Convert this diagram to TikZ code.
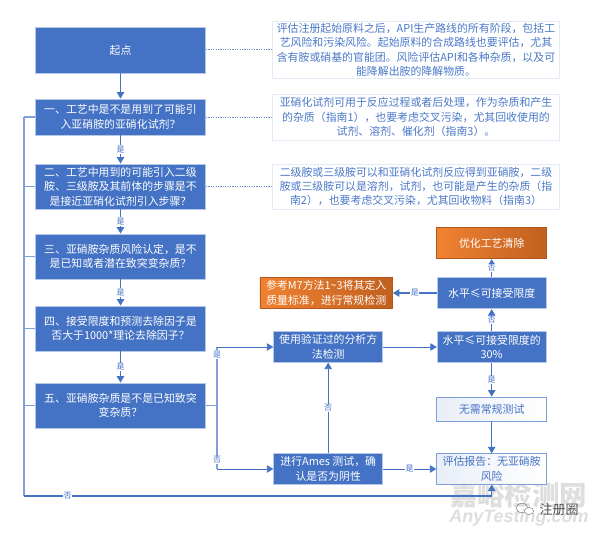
\documentclass[tikz,border=0pt]{standalone}
\usepackage{fontspec}
\setmainfont{Noto Sans CJK SC}
\newfontfamily\latinwm{Liberation Sans}
\usetikzlibrary{arrows.meta}
\definecolor{mainblue}{HTML}{4472C4}
\definecolor{paleblue}{HTML}{B4C7E7}
\definecolor{midblue}{HTML}{7F9FDA}
\definecolor{noteline}{HTML}{E4E9F6}
\definecolor{notetext}{HTML}{4A78C8}
\definecolor{orangeL}{HTML}{F08232}
\definecolor{orangeR}{HTML}{C0601F}
\definecolor{orangeB}{HTML}{B5561B}
\definecolor{wmgrey}{HTML}{DEDEDE}
\tikzset{
  x=1pt,y=-1pt,
  flowbox/.style={draw=paleblue,fill=mainblue,text=white,line width=0.8pt,inner sep=0pt,align=center,font=\fontsize{10.9}{14.6}\selectfont},
  notebox/.style={draw=noteline,fill=white,text=notetext,line width=0.8pt,inner sep=0pt,align=center,font=\fontsize{10.9}{14.4}\selectfont},
  orangebox/.style={draw=orangeB,left color=orangeL,right color=orangeR,text=white,line width=0.8pt,inner sep=0pt,align=center,font=\fontsize{10.9}{14.6}\selectfont},
  palebox/.style={draw=midblue,left color=mainblue!12,right color=white,text=mainblue,line width=0.8pt,inner sep=0pt,align=center,font=\fontsize{10.9}{14.6}\selectfont},
  conn/.style={draw=mainblue,line width=0.9pt},
  busline/.style={draw=midblue,line width=1.2pt},
  dotline/.style={draw=mainblue!80,line width=1pt,dash pattern=on 1.2pt off 1.2pt},
  arrowed/.style={-{Triangle[length=6.5pt,width=7.5pt]}},
  lab/.style={fill=white,text=mainblue,inner sep=0.6pt,font=\fontsize{8}{9}\selectfont},
}
\begin{document}
\begin{tikzpicture}
\useasboundingbox (0,0) rectangle (600,535);
% left column
\node[flowbox,minimum width=170pt,minimum height=46pt] (start) at (120.5,50) {起点};
\node[flowbox,minimum width=170pt,minimum height=36pt] (q1) at (120.5,117) {一、工艺中是不是用到了可能引\\入亚硝胺的亚硝化试剂？};
\node[flowbox,minimum width=170pt,minimum height=45pt] (q2) at (120.5,186.5) {二、工艺中用到的可能引入二级\\胺、三级胺及其前体的步骤是不\\是接近亚硝化试剂引入步骤？};
\node[flowbox,minimum width=170pt,minimum height=45pt] (q3) at (120.5,256.5) {三、亚硝胺杂质风险认定，是不\\是已知或者潜在致突变杂质？};
\node[flowbox,minimum width=170pt,minimum height=45pt] (q4) at (120.5,328.5) {四、接受限度和预测去除因子是\\否大于1000*理论去除因子？};
\node[flowbox,minimum width=170pt,minimum height=45pt] (q5) at (120.5,405.5) {五、亚硝胺杂质是不是已知致突\\变杂质？};
% notes
\node[notebox,minimum width=287pt,minimum height=57pt] (n0) at (416,50) {评估注册起始原料之后，API生产路线的所有阶段，包括工\\艺风险和污染风险。起始原料的合成路线也要评估，尤其\\含有胺或硝基的官能团。风险评估API和各种杂质，以及可\\能降解出胺的降解物质。};
\node[notebox,minimum width=287pt,minimum height=46pt] (n1) at (416,117) {亚硝化试剂可用于反应过程或者后处理，作为杂质和产生\\的杂质（指南1），也要考虑交叉污染，尤其回收使用的\\试剂、溶剂、催化剂（指南3）。};
\node[notebox,minimum width=287pt,minimum height=45pt] (n2) at (416,186.5) {二级胺或三级胺可以和亚硝化试剂反应得到亚硝胺，二级\\胺或三级胺可以是溶剂，试剂，也可能是产生的杂质（指\\南2），也要考虑交叉污染，尤其回收物料（指南3）};
% right part
\node[orangebox,minimum width=110pt,minimum height=31.5pt] (opt) at (491.7,243) {优化工艺清除};
\node[flowbox,minimum width=109pt,minimum height=31.5pt] (lim) at (491.7,293) {水平≤可接受限度};
\node[orangebox,minimum width=132.5pt,minimum height=31.5pt] (m7) at (326.2,293) {参考M7方法1\textasciitilde3将其定入\\质量标准，进行常规检测};
\node[flowbox,minimum width=109pt,minimum height=31pt] (lim30) at (491.7,347) {水平≤可接受限度的\\30\%};
\node[flowbox,minimum width=109pt,minimum height=30.5pt] (ana) at (328.2,347) {使用验证过的分析方\\法检测};
\node[palebox,minimum width=110pt,minimum height=24pt] (none) at (491.7,409) {无需常规测试};
% watermark
\node[text=wmgrey,font=\fontsize{27.4}{28}\selectfont\bfseries,inner sep=0pt] (wm1) at (518.5,494.5) {嘉峪检测网};
\node[text=wmgrey,font=\fontsize{18}{18}\latinwm\itshape\bfseries,inner sep=0pt] (wm2) at (519,518) {AnyTesting.com};
\node[palebox,minimum width=110pt,minimum height=30.5pt] (rep) at (491.7,469) {评估报告：无亚硝胺\\风险};
\node[flowbox,minimum width=109pt,minimum height=30.5pt] (ames) at (328.2,469) {进行Ames 测试，确\\认是否为阴性};
\node[text=black!70,font=\fontsize{13}{14}\selectfont,inner sep=0pt] (wm3) at (559,510) {注册圈};
\draw[black!50,line width=0.5pt] (522,508) ellipse (6pt and 4.6pt);
\draw[black!50,line width=0.5pt,fill=white] (529,511) ellipse (4.6pt and 3.6pt);
% coordinates
\coordinate (lb1) at (24,117);
\coordinate (lb2) at (24,186.5);
\coordinate (lb3) at (24,256.5);
\coordinate (lb4) at (24,328.5);
\coordinate (lb5) at (24,405.5);
\coordinate (lbb) at (24,496);
\coordinate (lbr) at (491.7,496);
\coordinate (rb) at (217,405.5);
\coordinate (rbt) at (217,347);
\coordinate (rbb) at (217,469);
% main flow
\draw[conn,arrowed] (start) -- (q1);
\draw[conn,arrowed] (q1) -- node[lab,midway]{是} (q2);
\draw[conn,arrowed] (q2) -- node[lab,midway]{是} (q3);
\draw[conn,arrowed] (q3) -- node[lab,midway]{是} (q4);
\draw[conn,arrowed] (q4) -- node[lab,midway]{是} (q5);
% dotted leaders
\draw[dotline] (start) -- (n0);
\draw[dotline] (q1) -- (n1);
\draw[dotline] (q2) -- (n2);
% left bus
\draw[busline] (q1.west) -- (lb1);
\draw[busline] (q2.west) -- (lb2);
\draw[busline] (q3.west) -- (lb3);
\draw[busline] (q4.west) -- (lb4);
\draw[busline] (q5.west) -- (lb5);
\draw[busline] (lb1) -- (lbb);
\draw[conn,line width=1.2pt,arrowed] (lbb) -- node[lab,pos=0.0933]{否} (lbr) -- (rep.south);
% right bus
\draw[busline] (q5.east) -- (rb);
\draw[busline] (rb) -- (rbt);
\draw[busline] (rb) -- (rbb);
\draw[conn,arrowed] (rbt) -- (ana.west);
\draw[conn,arrowed] (rbb) -- (ames.west);
\node[lab] (ly) at (217,354.5) {是};
\node[lab] (ln) at (217,460) {否};
% right flows
\draw[conn,arrowed] (ana) -- (lim30);
\draw[conn,arrowed] (ames) -- node[lab,pos=0.5]{是} (rep);
\draw[conn,arrowed] (ames) -- node[lab,pos=0.5]{否} (ana);
\draw[conn,arrowed] (lim30) -- node[lab,pos=0.5]{否} (lim);
\draw[conn,arrowed] (lim) -- node[lab,pos=0.5]{否} (opt);
\draw[busline,arrowed,mainblue] (lim) -- node[lab,pos=0.5]{是} (m7);
\draw[conn,arrowed] (lim30) -- node[lab,pos=0.5]{是} (none);
\draw[conn,arrowed] (none) -- (rep);
\end{tikzpicture}
\end{document}
